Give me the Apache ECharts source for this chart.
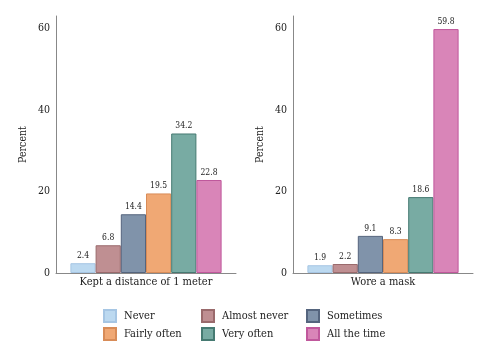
<!DOCTYPE html>
<html><head><meta charset="utf-8">
<script src="https://cdn.jsdelivr.net/npm/echarts@6/dist/echarts.min.js"></script>
<style>html,body{margin:0;padding:0;background:#fff}#c{width:490px;height:356px}</style>
</head><body><div id="c"></div>
<script>
const panels = ['Kept a distance of 1 meter', 'Wore a mask'];
const seriesNames = ['Never', 'Almost never', 'Sometimes', 'Fairly often', 'Very often', 'All the time'];
const distanceValues = [2.4, 6.8, 14.4, 19.5, 34.2, 22.8];
const maskValues = [1.9, 2.2, 9.1, 8.3, 18.6, 59.8];
const yTicks = [0, 20, 40, 60];
const fills = ['#bcd9f0', '#bf8f92', '#8093aa', '#f0a874', '#78aba3', '#d985b8'];
const borders = ['#a6c6e4', '#9a6a6c', '#55657e', '#d88c58', '#467a72', '#c0589c'];

const FONT = '"DejaVu Serif Condensed", "DejaVu Serif", serif';
const chart = echarts.init(document.getElementById('c'), null, {renderer: 'canvas'});
const gridDefs = [
  {left: 56, right: 254, top: 16, bottom: 83},
  {left: 293, right: 17, top: 16, bottom: 83}
];
const xAxes = panels.map((p, i) => ({
  type: 'category', gridIndex: i, data: [p],
  axisLine: {lineStyle: {color: '#888', width: 1}},
  axisTick: {show: false},
  axisLabel: {fontFamily: FONT, fontSize: 11, color: '#222', margin: 4}
}));
const yAxes = panels.map((p, i) => ({
  type: 'value', gridIndex: i, min: 0, max: 63, interval: 20,
  name: 'Percent', nameLocation: 'middle', nameGap: 27,
  nameTextStyle: {fontFamily: FONT, fontSize: 10.5, color: '#222'},
  axisLine: {show: true, lineStyle: {color: '#888', width: 1}},
  axisTick: {show: false},
  splitLine: {show: false},
  axisLabel: {fontFamily: FONT, fontSize: 10.5, color: '#222', margin: 6,
    formatter: v => yTicks.includes(v) ? String(v) : ''}
}));
const allValues = [distanceValues, maskValues];
const series = [];
allValues.forEach((vals, gi) => {
  seriesNames.forEach((name, si) => {
    series.push({
      type: 'bar', name: name, xAxisIndex: gi, yAxisIndex: gi,
      data: [vals[si]], barGap: '0%', barCategoryGap: '16%',
      itemStyle: {color: fills[si], borderColor: borders[si], borderWidth: 1},
      label: {show: true, position: 'top', distance: 3, fontFamily: FONT, fontSize: 8.5, color: '#222',
        formatter: p => p.value.toFixed(1)}
    });
  });
});
const legendCols = [[0, 3], [1, 4], [2, 5]];
const legendLeft = [98, 196, 301];
const legends = legendCols.map((col, i) => ({
  orient: 'vertical', left: legendLeft[i], top: 304,
  data: col.map(k => seriesNames[k]),
  itemWidth: 12, itemHeight: 12, itemGap: 4,
  icon: 'rect',
  textStyle: {fontFamily: FONT, fontSize: 11, color: '#222', padding: [0, 0, 0, 3]},
  selectedMode: false
}));
chart.setOption({
  animation: false,
  grid: gridDefs,
  xAxis: xAxes,
  yAxis: yAxes,
  legend: legends,
  series: series
});
</script></body></html>
